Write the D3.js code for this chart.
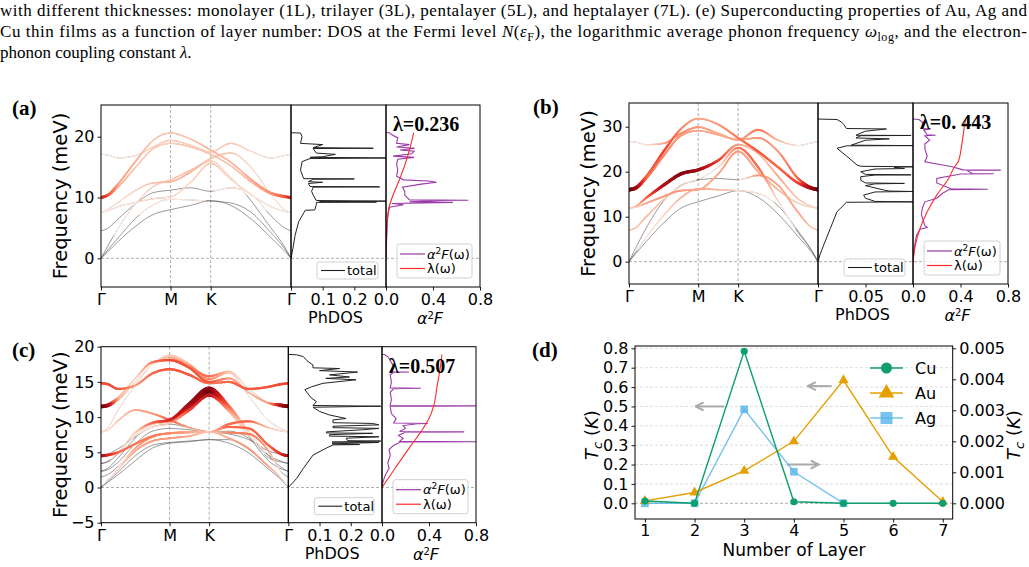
<!DOCTYPE html>
<html>
<head>
<meta charset="utf-8">
<script src="https://cdn.jsdelivr.net/npm/d3@7"></script>
<style>
  body { margin: 0; background: #fff; }
  svg { display: block; }
  text { font-family: "DejaVu Sans", sans-serif; fill: #000; }
</style>
</head>
<body>
<svg id="fig" width="1029" height="567"></svg>
<script>
// ---------- data ----------
// k-path sample positions (Γ-M-K-Γ, path length units) and high-symmetry labels
const kPath = [0, 0.08, 0.2165, 0.433, 0.6495, 0.866, 1.116, 1.366, 1.616, 1.866, 2.116, 2.286, 2.366];
const kLabels = ["Γ", "M", "K", "Γ"];
const kLabelPos = [0, 0.866, 1.366, 2.366];

// (a) phonon bands (meV) and coupling weight along the path
const bandsA = [
  [0, 1.0, 2.8, 5.3, 7.2, 8.0, 8.7, 9.5, 8.7, 6.5, 3.4, 1.2, 0],
  [0, 1.3, 3.4, 6.6, 8.8, 9.7, 9.6, 9.4, 9.1, 7.6, 4.2, 1.6, 0],
  [0, 1.9, 5.0, 9.0, 11.8, 12.9, 14.5, 16.0, 13.3, 9.5, 5.0, 1.9, 0],
  [4.5, 4.9, 6.5, 9.0, 10.8, 11.2, 11.6, 11.0, 11.6, 10.6, 7.0, 5.0, 4.5],
  [7.5, 7.8, 8.5, 9.2, 9.8, 10.1, 12.5, 15.6, 13.0, 10.5, 8.5, 7.7, 7.5],
  [7.5, 8.0, 9.2, 11.2, 12.4, 12.6, 14.2, 16.4, 17.3, 15.0, 10.5, 8.0, 7.5],
  [10.0, 10.3, 11.8, 15.0, 18.0, 18.9, 18.3, 17.1, 15.2, 12.6, 10.6, 10.1, 10.0],
  [10.0, 10.4, 12.3, 16.0, 19.4, 20.6, 19.6, 17.8, 15.8, 13.0, 10.8, 10.2, 10.0],
  [17.1, 17.0, 16.5, 16.9, 18.3, 19.4, 18.6, 17.5, 18.9, 17.6, 16.5, 16.9, 17.1]
];
const weightsA = [
  [0, 0, 0, 0, 0, 0, 0, 0, 0, 0, 0, 0, 0],
  [0, 0, 0, 0, 0.05, 0.08, 0.05, 0, 0, 0, 0, 0, 0],
  [0, 0, 0.02, 0.08, 0.15, 0.2, 0.2, 0.15, 0.05, 0, 0, 0, 0],
  [0, 0, 0, 0, 0, 0, 0, 0, 0.08, 0.05, 0, 0, 0],
  [0.03, 0.04, 0.05, 0.08, 0.1, 0.1, 0.15, 0.2, 0.15, 0.1, 0.05, 0.04, 0.03],
  [0.02, 0.05, 0.1, 0.15, 0.2, 0.25, 0.25, 0.22, 0.18, 0.12, 0.05, 0.03, 0.02],
  [0.72, 0.55, 0.28, 0.2, 0.18, 0.18, 0.2, 0.22, 0.2, 0.25, 0.32, 0.55, 0.72],
  [0.72, 0.55, 0.32, 0.28, 0.2, 0.2, 0.2, 0.25, 0.25, 0.3, 0.38, 0.55, 0.72],
  [0.02, 0.02, 0.03, 0.08, 0.15, 0.18, 0.15, 0.15, 0.2, 0.1, 0.03, 0.02, 0.02]
];
// (a) PhDOS and Eliashberg function: [frequency, value]
const dosA = [[0,0],[1.6,0.006],[3.8,0.013],[6.0,0.024],[7.9,0.045],[7.95,0.075],[8.8,0.08],[9.2,0.08],[9.25,0.27],[9.3,0.09],[9.4,0.33],[9.5,0.08],[10.4,0.07],[11.0,0.065],[11.7,0.07],[11.75,0.28],[11.8,0.06],[12.3,0.055],[12.5,0.1],[12.6,0.055],[13.0,0.07],[13.05,0.2],[13.1,0.04],[14.5,0.03],[15.9,0.035],[16.4,0.06],[16.5,0.33],[16.6,0.06],[16.7,0.1],[17.1,0.14],[17.3,0.08],[18.05,0.07],[18.1,0.26],[18.2,0.07],[18.7,0.1],[18.9,0.03],[20.0,0.035],[20.6,0.03],[20.65,0]];
const a2fA = [[0,0],[3.0,0.005],[6.0,0.01],[7.5,0.02],[8.4,0.03],[8.8,0.15],[9.0,0.05],[9.2,0.57],[9.3,0.2],[9.5,0.48],[9.55,0.7],[9.6,0.2],[10.4,0.16],[11.0,0.16],[11.7,0.14],[12.2,0.3],[12.5,0.43],[12.7,0.36],[12.9,0.15],[13.5,0.09],[14.5,0.1],[15.5,0.09],[16.3,0.1],[16.6,0.24],[16.8,0.06],[17.2,0.22],[17.6,0.24],[17.8,0.12],[18.1,0.245],[18.3,0.09],[18.7,0.2],[18.9,0.09],[19.8,0.1],[20.3,0.05],[20.65,0.03],[20.65,0]];
const lamA = [[0,0],[3.8,0.005],[7.9,0.02],[9.3,0.04],[10.4,0.06],[13.2,0.12],[15.9,0.17],[18.6,0.21],[20.65,0.236]];

// (b)
const bandsB = [
  [0, 1.7, 4.5, 8.6, 11.9, 13.3, 14.6, 15.8, 14.3, 10.6, 5.6, 2.1, 0],
  [0, 2.0, 5.4, 10.3, 14.2, 16.2, 16.0, 15.8, 15.2, 12.4, 6.8, 2.5, 0],
  [0, 2.9, 7.5, 13.5, 17.0, 18.2, 21.0, 25.3, 21.0, 13.5, 6.5, 2.5, 0],
  [7.0, 7.5, 10.0, 13.8, 16.8, 18.2, 18.5, 18.2, 19.2, 17.0, 11.0, 7.6, 7.0],
  [11.9, 12.1, 13.0, 14.5, 15.8, 16.0, 19.5, 24.5, 20.0, 16.0, 13.0, 12.1, 11.9],
  [11.9, 12.3, 14.2, 17.0, 19.5, 20.4, 22.5, 26.0, 24.0, 19.0, 14.0, 12.3, 11.9],
  [16.0, 16.3, 18.5, 23.5, 28.0, 29.1, 28.2, 27.1, 27.5, 24.5, 18.5, 16.4, 16.0],
  [16.0, 16.4, 19.0, 24.5, 29.5, 31.8, 30.5, 27.5, 24.5, 21.0, 17.5, 16.3, 16.0],
  [26.7, 26.6, 26.0, 26.3, 28.5, 29.9, 28.5, 27.1, 29.3, 27.0, 25.8, 26.4, 26.7]
];
const weightsB = [
  [0, 0, 0, 0, 0, 0, 0, 0, 0, 0, 0, 0, 0],
  [0, 0, 0.05, 0.15, 0.25, 0.3, 0.25, 0.1, 0.05, 0, 0, 0, 0],
  [0, 0, 0, 0, 0, 0, 0.1, 0.45, 0.5, 0.1, 0, 0, 0],
  [0.2, 0.2, 0.25, 0.2, 0.1, 0, 0, 0, 0.35, 0.3, 0.3, 0.2, 0.2],
  [0.1, 0.15, 0.3, 0.35, 0.35, 0.3, 0.3, 0.35, 0.3, 0.25, 0.15, 0.1, 0.1],
  [0.15, 0.2, 0.5, 0.85, 0.95, 0.9, 0.6, 0.3, 0.2, 0.3, 0.2, 0.15, 0.15],
  [1.0, 0.9, 0.45, 0.4, 0.35, 0.3, 0.3, 0.3, 0.35, 0.35, 0.5, 0.9, 1.0],
  [1.0, 0.9, 0.5, 0.6, 0.4, 0.3, 0.35, 0.45, 0.55, 0.5, 0.6, 0.9, 1.0],
  [0.03, 0.03, 0.1, 0.3, 0.4, 0.35, 0.3, 0.3, 0.45, 0.25, 0.05, 0.03, 0.03]
];
const dosB = [[0,0],[1.5,0.002],[3.7,0.006],[7.4,0.013],[11.1,0.02],[13.2,0.03],[13.3,0.1],[13.4,0.06],[14.1,0.05],[14.8,0.048],[15.5,0.06],[15.6,0.1],[15.7,0.075],[15.9,0.07],[16.9,0.05],[17.3,0.06],[17.4,0.091],[17.5,0.05],[18.1,0.045],[18.9,0.045],[19.25,0.06],[19.3,0.098],[19.4,0.05],[20.0,0.045],[20.6,0.06],[20.7,0.091],[21.0,0.08],[21.1,0.1],[21.2,0.045],[21.5,0.041],[23.5,0.03],[25.2,0.02],[25.75,0.03],[25.8,0.1],[25.9,0.035],[27.0,0.05],[27.3,0.075],[27.5,0.04],[28.0,0.045],[28.05,0.098],[28.1,0.04],[28.6,0.045],[29.0,0.05],[29.5,0.072],[29.6,0.03],[30.5,0.027],[31.0,0.025],[31.6,0.02],[31.7,0]];
const a2fB = [[0,0],[3.0,0.01],[5.9,0.03],[7.2,0.06],[7.6,0.12],[8.0,0.1],[10.5,0.07],[12.0,0.08],[13.3,0.1],[14.1,0.2],[15.2,0.25],[16.0,0.3],[16.1,0.63],[16.2,0.32],[17.5,0.2],[18.5,0.2],[19.5,0.4],[19.55,0.68],[19.6,0.5],[20.3,0.45],[20.35,0.74],[20.4,0.42],[21.1,0.33],[21.5,0.25],[22.2,0.1],[23.5,0.12],[25.0,0.1],[26.2,0.1],[27.0,0.14],[28.0,0.1],[28.1,0.19],[28.2,0.12],[29.3,0.09],[29.5,0.15],[29.6,0.08],[31.0,0.08],[31.6,0.05],[31.7,0]];
const lamB = [[0,0],[3.7,0.02],[7.4,0.06],[11.1,0.12],[14.8,0.2],[18.5,0.3],[21.1,0.35],[22.2,0.38],[25.9,0.41],[29.6,0.43],[31.7,0.443]];

// (c)
const bandsC = [
  [0, 0.7, 1.8, 3.8, 5.6, 6.3, 6.5, 6.8, 6.3, 4.9, 2.6, 1.0, 0],
  [0, 0.8, 2.2, 4.5, 6.0, 6.4, 6.6, 6.8, 6.8, 5.6, 3.0, 1.1, 0],
  [0, 1.0, 2.6, 5.2, 6.6, 7.0, 7.3, 7.9, 7.0, 5.5, 3.0, 1.2, 0],
  [1.5, 1.8, 3.0, 5.6, 7.2, 7.7, 7.8, 7.9, 7.8, 7.6, 5.2, 2.1, 1.5],
  [2.3, 2.5, 3.6, 6.2, 8.0, 8.4, 8.2, 7.9, 8.0, 7.0, 4.5, 2.8, 2.3],
  [2.3, 2.7, 4.2, 7.0, 8.6, 9.1, 11.0, 13.1, 10.8, 7.3, 3.8, 2.6, 2.3],
  [3.4, 3.6, 4.8, 7.4, 9.0, 9.4, 11.5, 13.6, 11.2, 7.6, 4.2, 3.6, 3.4],
  [3.4, 3.7, 5.0, 7.8, 9.2, 9.6, 11.9, 14.1, 11.6, 8.0, 4.6, 3.7, 3.4],
  [4.5, 4.6, 5.0, 6.2, 7.3, 7.7, 7.9, 7.9, 8.6, 8.4, 6.0, 4.7, 4.5],
  [4.5, 4.7, 5.5, 7.2, 8.6, 9.0, 8.5, 7.9, 7.6, 6.8, 5.2, 4.7, 4.5],
  [7.9, 8.1, 9.5, 11.0, 10.5, 9.6, 8.5, 7.9, 9.0, 9.4, 8.5, 8.0, 7.9],
  [7.9, 8.4, 11.0, 14.5, 17.5, 18.8, 17.5, 15.4, 16.3, 13.0, 9.5, 8.3, 7.9],
  [11.5, 11.6, 12.5, 15.0, 17.5, 18.5, 17.2, 15.8, 16.5, 14.0, 12.0, 11.6, 11.5],
  [11.5, 11.7, 12.8, 15.5, 17.8, 18.1, 17.0, 15.0, 15.5, 13.5, 12.0, 11.7, 11.5],
  [14.8, 14.7, 14.0, 14.5, 16.2, 16.8, 16.0, 14.8, 15.0, 14.0, 14.3, 14.7, 14.8]
];
const weightsC = [
  [0, 0, 0, 0, 0, 0, 0, 0, 0, 0, 0, 0, 0],
  [0, 0, 0, 0, 0, 0, 0, 0, 0, 0, 0, 0, 0],
  [0, 0.05, 0.15, 0.3, 0.35, 0.35, 0.3, 0.2, 0.3, 0.35, 0.3, 0.1, 0],
  [0, 0, 0, 0.3, 0.4, 0.4, 0.3, 0.1, 0.4, 0.45, 0.3, 0, 0],
  [0, 0, 0, 0, 0, 0, 0, 0, 0, 0, 0, 0, 0],
  [0, 0, 0, 0, 0.1, 0.2, 0.6, 0.8, 0.3, 0, 0, 0, 0],
  [0, 0, 0, 0.05, 0.2, 0.3, 0.8, 1.0, 0.4, 0.05, 0, 0, 0],
  [0, 0, 0.05, 0.2, 0.5, 0.7, 0.9, 0.95, 0.5, 0.1, 0, 0, 0],
  [0.85, 0.7, 0.5, 0.45, 0.45, 0.4, 0.3, 0.2, 0.5, 0.5, 0.5, 0.7, 0.85],
  [0, 0, 0, 0, 0, 0, 0, 0, 0, 0, 0, 0, 0],
  [0.1, 0.1, 0.2, 0.3, 0.35, 0.5, 0.3, 0.2, 0.5, 0.5, 0.2, 0.1, 0.1],
  [0.08, 0.05, 0.03, 0.02, 0.05, 0.15, 0.3, 0.4, 0.2, 0.05, 0.02, 0.05, 0.08],
  [1.0, 0.85, 0.3, 0.08, 0.1, 0.3, 0.4, 0.5, 0.2, 0.08, 0.2, 0.85, 1.0],
  [1.0, 0.85, 0.25, 0.15, 0.45, 0.6, 0.55, 0.55, 0.35, 0.25, 0.35, 0.85, 1.0],
  [0.6, 0.6, 0.55, 0.35, 0.5, 0.55, 0.55, 0.45, 0.5, 0.55, 0.55, 0.6, 0.6]
];
const dosC = [[0,0],[1.3,0.027],[2.7,0.048],[4.6,0.079],[5.6,0.122],[6.05,0.143],[6.1,0.228],[6.2,0.14],[6.4,0.29],[6.45,0.14],[6.6,0.296],[6.65,0.19],[7.0,0.185],[7.2,0.29],[7.3,0.132],[7.5,0.132],[7.7,0.27],[7.75,0.122],[7.9,0.122],[8.2,0.238],[8.4,0.29],[8.5,0.143],[8.7,0.143],[8.9,0.29],[9.1,0.27],[9.2,0.143],[9.6,0.143],[9.8,0.185],[10.3,0.132],[10.8,0.1],[11.4,0.079],[11.55,0.296],[11.65,0.079],[12.2,0.09],[12.7,0.074],[13.9,0.053],[14.3,0.074],[14.8,0.111],[15.3,0.217],[15.5,0.12],[15.7,0.196],[16.0,0.132],[16.4,0.222],[16.6,0.1],[16.9,0.164],[17.0,0.079],[17.4,0.079],[18.0,0.06],[18.6,0.048],[18.85,0.026],[18.9,0]];
const a2fC = [[0,0],[0.9,0.01],[1.8,0.03],[2.7,0.06],[3.5,0.05],[4.6,0.07],[5.4,0.06],[6.0,0.1],[6.45,0.16],[6.5,0.8],[6.55,0.15],[7.0,0.18],[7.4,0.14],[7.85,0.2],[7.9,0.7],[7.95,0.15],[8.4,0.2],[8.8,0.18],[9.05,0.3],[9.1,0.39],[9.15,0.1],[9.8,0.12],[10.5,0.08],[11.5,0.07],[11.6,0.8],[11.65,0.07],[12.5,0.08],[13.5,0.07],[14.05,0.1],[14.1,0.33],[14.15,0.07],[15.0,0.08],[16.0,0.07],[16.35,0.1],[16.4,0.23],[16.45,0.07],[17.2,0.1],[18.0,0.07],[18.6,0.05],[18.9,0.02],[18.9,0]];
const lamC = [[0,0],[2.7,0.11],[5.1,0.21],[6.5,0.27],[7.9,0.33],[9.8,0.40],[11.6,0.44],[14.5,0.47],[16.9,0.495],[18.9,0.51]];

// (d) Tc versus number of layers
const layers = [1, 2, 3, 4, 5, 6, 7];
const tcCu = [0.012, 0.0, 0.785, 0.008, 0.0, 0.0, 0.0];
const tcAg = [0.0, 0.0, 0.485, 0.163, 0.0];
const tcAu = [0.00008, 0.00035, 0.00105, 0.0020, 0.00397, 0.0015, 0.00005];
const tcLeftTicks = [0, 0.1, 0.2, 0.3, 0.4, 0.5, 0.6, 0.7, 0.8];
const tcRightTicks = [0, 0.001, 0.002, 0.003, 0.004, 0.005];

// ---------- drawing ----------
const svg = d3.select("#fig");
const serif = '"Liberation Serif", "Times New Roman", serif';
const defs = svg.append("defs");

// caption text above the figure
function richLine(y, parts, justify) {
  const t = svg.append("text").attr("x", 0).attr("y", y)
    .style("font-family", serif).style("font-size", "17px");
  if (justify) t.attr("textLength", 1027).attr("lengthAdjust", "spacing");
  parts.forEach(p => {
    const s = t.append("tspan").text(p.t);
    if (p.i) s.style("font-style", "italic");
    if (p.sub) s.attr("dy", 4).style("font-size", "12px");
    if (p.back) s.attr("dy", -4);
  });
}
richLine(16, [{ t: "with different thicknesses: monolayer (1L), trilayer (3L), pentalayer (5L), and heptalayer (7L). (e) Superconducting properties of Au, Ag and" }], true);
richLine(37, [
  { t: "Cu thin films as a function of layer number: DOS at the Fermi level " },
  { t: "N", i: true }, { t: "(" }, { t: "ε", i: true }, { t: "F", sub: true },
  { t: "), the logarithmic average phonon frequency ", back: true },
  { t: "ω", i: true }, { t: "log", sub: true },
  { t: ", and the electron-", back: true }
], true);
richLine(58, [{ t: "phonon coupling constant " }, { t: "λ", i: true }, { t: "." }], false);

function panelLabel(x, y, s) {
  svg.append("text").attr("x", x).attr("y", y).text(s)
    .style("font-family", serif).style("font-weight", "bold").style("font-size", "21px");
}

function styleAxis(g) {
  g.select(".domain").remove();
  g.selectAll(".tick line").attr("stroke", "#000").attr("stroke-width", 0.9);
  g.selectAll(".tick text").style("font-size", "16px").style("font-family", '"DejaVu Sans", sans-serif').attr("fill", "#000");
}

function bandPanel(cfg, id) {
  const g = svg.append("g");
  const kx = d3.scaleLinear().domain([kPath[0], kPath[kPath.length - 1]]).range([cfg.bx0, cfg.bx1]);
  const fy = d3.scaleLinear().domain(cfg.fDomain).range([cfg.y1, cfg.y0]);
  const dx = d3.scaleLinear().domain(cfg.dosDomain).range([cfg.bx1, cfg.dx1]);
  const ax = d3.scaleLinear().domain([0, 0.8]).range([cfg.dx1, cfg.ax1]);

  const clips = [["b", cfg.bx0, cfg.bx1], ["d", cfg.bx1, cfg.dx1], ["a", cfg.dx1, cfg.ax1]];
  clips.forEach(([n, x0, x1]) => {
    defs.append("clipPath").attr("id", `clip-${id}-${n}`).append("rect")
      .attr("x", x0).attr("y", cfg.y0).attr("width", x1 - x0).attr("height", cfg.y1 - cfg.y0);
  });

  // guide lines
  kLabelPos.slice(1, 3).forEach(k => {
    g.append("line").attr("x1", kx(k)).attr("x2", kx(k)).attr("y1", cfg.y0).attr("y2", cfg.y1)
      .attr("stroke", "#999").attr("stroke-width", 0.8).attr("stroke-dasharray", "3,2");
  });
  g.append("line").attr("x1", cfg.bx0).attr("x2", cfg.ax1).attr("y1", fy(0)).attr("y2", fy(0))
    .attr("stroke", "#999").attr("stroke-width", 0.8).attr("stroke-dasharray", "3,2");

  // bands: thin gray line plus coloured coupling overlay
  const bg = g.append("g").attr("clip-path", `url(#clip-${id}-b)`);
  const line = d3.line().x((d, i) => kx(kPath[i])).y(d => fy(d)).curve(d3.curveMonotoneX);
  const segs = [];
  cfg.bands.forEach((b, bi) => {
    const p = bg.append("path").attr("d", line(b)).attr("fill", "none")
      .attr("stroke", "#555").attr("stroke-width", 0.8).attr("stroke-opacity", 0.75);
    const node = p.node(), L = node.getTotalLength();
    const wAt = d3.scaleLinear().domain(kPath.map(kx)).range(cfg.weights[bi]).clamp(true);
    const n = Math.ceil(L / 1.5);
    let prev = node.getPointAtLength(0);
    for (let s = 1; s <= n; s++) {
      const pt = node.getPointAtLength(L * s / n);
      const w = wAt((prev.x + pt.x) / 2);
      if (w > 0.012) segs.push({ x1: prev.x, y1: prev.y, x2: pt.x, y2: pt.y, w });
      prev = pt;
    }
  });
  segs.sort((a, b) => a.w - b.w);
  bg.selectAll("line.seg").data(segs).join("line").attr("class", "seg")
    .attr("x1", d => d.x1).attr("y1", d => d.y1).attr("x2", d => d.x2).attr("y2", d => d.y2)
    .attr("stroke", d => d3.interpolateReds(0.02 + 0.96 * d.w))
    .attr("stroke-width", d => 0.9 + 2.6 * d.w).attr("stroke-linecap", "round");

  // PhDOS
  g.append("path").datum(cfg.dos).attr("clip-path", `url(#clip-${id}-d)`)
    .attr("fill", "none").attr("stroke", "#222").attr("stroke-width", 1)
    .attr("d", d3.line().x(d => dx(d[1])).y(d => fy(d[0])));

  // Eliashberg function and cumulative lambda
  const ag = g.append("g").attr("clip-path", `url(#clip-${id}-a)`);
  ag.append("path").datum(cfg.a2f).attr("fill", "none").attr("stroke", "#9a3aa8").attr("stroke-width", 1.1)
    .attr("d", d3.line().x(d => ax(d[1])).y(d => fy(d[0])));
  ag.append("path").datum(cfg.lam).attr("fill", "none").attr("stroke", "#ff2a2a").attr("stroke-width", 1.1)
    .attr("d", d3.line().x(d => ax(d[1])).y(d => fy(d[0])).curve(d3.curveMonotoneY));

  // axes
  const yAx = g.append("g").attr("transform", `translate(${cfg.bx0},0)`)
    .call(d3.axisLeft(fy).tickValues(cfg.fTicks).tickSize(3.5).tickPadding(3).tickFormat(d => d < 0 ? "−" + (-d) : d));
  styleAxis(yAx);
  const kAx = g.append("g").attr("transform", `translate(0,${cfg.y1})`)
    .call(d3.axisBottom(kx).tickValues(kLabelPos).tickSize(3.5).tickPadding(3).tickFormat((d, i) => kLabels[i]));
  styleAxis(kAx);
  const dAx = g.append("g").attr("transform", `translate(0,${cfg.y1})`)
    .call(d3.axisBottom(dx).tickValues(cfg.dosTicks).tickSize(3.5).tickPadding(3).tickFormat(d3.format(cfg.dosFmt)));
  styleAxis(dAx);
  const aAx = g.append("g").attr("transform", `translate(0,${cfg.y1})`)
    .call(d3.axisBottom(ax).tickValues([0, 0.4, 0.8]).tickSize(3.5).tickPadding(3).tickFormat(d3.format(".1f")));
  styleAxis(aAx);

  // frames
  [[cfg.bx0, cfg.bx1], [cfg.bx1, cfg.dx1], [cfg.dx1, cfg.ax1]].forEach(([x0, x1]) => {
    g.append("rect").attr("x", x0).attr("y", cfg.y0).attr("width", x1 - x0).attr("height", cfg.y1 - cfg.y0)
      .attr("fill", "none").attr("stroke", "#000").attr("stroke-width", 1);
  });

  // axis titles
  g.append("text").attr("transform", `translate(${cfg.bx0 - 34},${(cfg.y0 + cfg.y1) / 2}) rotate(-90)`)
    .attr("text-anchor", "middle").style("font-size", "19.5px").text("Frequency (meV)");
  g.append("text").attr("x", (cfg.bx1 + cfg.dx1) / 2 - 3).attr("y", cfg.y1 + 36)
    .attr("text-anchor", "middle").style("font-size", "16px").text("PhDOS");
  const at = g.append("text").attr("x", (cfg.dx1 + cfg.ax1) / 2 - 3).attr("y", cfg.y1 + 37)
    .attr("text-anchor", "middle").style("font-size", "16px");
  at.append("tspan").text("α").style("font-style", "italic");
  at.append("tspan").text("2").attr("dy", -5).style("font-size", "10px");
  at.append("tspan").text("F").attr("dy", 5).style("font-style", "italic");

  // lambda label
  g.append("text").attr("x", cfg.dx1 + 7).attr("y", cfg.y0 + 26).text(cfg.lamText)
    .style("font-family", serif).style("font-weight", "bold").style("font-size", "20px");

  // legends
  const lg = g.append("g");
  lg.append("rect").attr("x", cfg.bx1 + 26).attr("y", cfg.y1 - 25).attr("width", cfg.dx1 - cfg.bx1 - 34).attr("height", 17)
    .attr("rx", 2.5).attr("fill", "#fff").attr("fill-opacity", 0.8).attr("stroke", "#d0d0d0");
  lg.append("line").attr("x1", cfg.bx1 + 30).attr("x2", cfg.bx1 + 54).attr("y1", cfg.y1 - 16.5).attr("y2", cfg.y1 - 16.5)
    .attr("stroke", "#222").attr("stroke-width", 1.1);
  lg.append("text").attr("x", cfg.bx1 + 56).attr("y", cfg.y1 - 12).style("font-size", "13px").text("total");

  lg.append("rect").attr("x", cfg.dx1 + 11).attr("y", cfg.y1 - 43).attr("width", cfg.ax1 - cfg.dx1 - 19).attr("height", 34)
    .attr("rx", 2.5).attr("fill", "#fff").attr("fill-opacity", 0.8).attr("stroke", "#d0d0d0");
  lg.append("line").attr("x1", cfg.dx1 + 14).attr("x2", cfg.dx1 + 39).attr("y1", cfg.y1 - 33).attr("y2", cfg.y1 - 33)
    .attr("stroke", "#9a3aa8").attr("stroke-width", 1.2);
  const l1 = lg.append("text").attr("x", cfg.dx1 + 41).attr("y", cfg.y1 - 28.5).style("font-size", "13px");
  l1.append("tspan").text("α").style("font-style", "italic");
  l1.append("tspan").text("2").attr("dy", -5).style("font-size", "9px");
  l1.append("tspan").text("F").attr("dy", 5).style("font-style", "italic");
  l1.append("tspan").text("(ω)");
  lg.append("line").attr("x1", cfg.dx1 + 14).attr("x2", cfg.dx1 + 39).attr("y1", cfg.y1 - 18.5).attr("y2", cfg.y1 - 18.5)
    .attr("stroke", "#ff2a2a").attr("stroke-width", 1.2);
  lg.append("text").attr("x", cfg.dx1 + 41).attr("y", cfg.y1 - 14).style("font-size", "13px").text("λ(ω)");
}

bandPanel({
  bx0: 101, bx1: 291, dx1: 386, ax1: 480, y0: 105, y1: 287,
  fDomain: [-4.72, 25.21], fTicks: [0, 10, 20],
  dosDomain: [0, 0.3], dosTicks: [0.1, 0.2], dosFmt: ".1f",
  bands: bandsA, weights: weightsA, dos: dosA, a2f: a2fA, lam: lamA, lamText: "λ=0.236"
}, "a");
bandPanel({
  bx0: 629, bx1: 818, dx1: 913, ax1: 1008, y0: 103, y1: 284,
  fDomain: [-4.96, 35.27], fTicks: [0, 10, 20, 30],
  dosDomain: [0, 0.1], dosTicks: [0.05], dosFmt: ".2f",
  bands: bandsB, weights: weightsB, dos: dosB, a2f: a2fB, lam: lamB, lamText: "λ=0. 443"
}, "b");
bandPanel({
  bx0: 101, bx1: 288.3, dx1: 382, ax1: 476, y0: 346.7, y1: 522.7,
  fDomain: [-5, 20], fTicks: [-5, 0, 5, 10, 15, 20],
  dosDomain: [0, 0.3], dosTicks: [0.1, 0.2], dosFmt: ".1f",
  bands: bandsC, weights: weightsC, dos: dosC, a2f: a2fC, lam: lamC, lamText: "λ=0.507"
}, "c");

panelLabel(12, 115, "(a)");
panelLabel(533, 114, "(b)");
panelLabel(12, 357, "(c)");
panelLabel(532, 357, "(d)");

// ---------- (d) ----------
const dg = svg.append("g");
const xL = d3.scaleLinear().domain([0.8, 7.2]).range([635, 952.7]);
const yL = d3.scaleLinear().domain([-0.081, 0.812]).range([519, 346]);
const yR = d3.scaleLinear().domain([-0.000506, 0.005075]).range([519, 346]);

tcLeftTicks.forEach(t => {
  dg.append("line").attr("x1", 635).attr("x2", 952.7).attr("y1", yL(t)).attr("y2", yL(t))
    .attr("stroke", t === 0 ? "#999" : "#d4d4d4").attr("stroke-width", 0.8).attr("stroke-dasharray", "3,2");
});

const lAx = dg.append("g").attr("transform", "translate(635,0)")
  .call(d3.axisLeft(yL).tickValues(tcLeftTicks).tickSize(3.5).tickPadding(3).tickFormat(d3.format(".1f")));
styleAxis(lAx);
const rAx = dg.append("g").attr("transform", "translate(952.7,0)")
  .call(d3.axisRight(yR).tickValues(tcRightTicks).tickSize(3.5).tickPadding(3).tickFormat(d3.format(".3f")));
styleAxis(rAx);
const bAx = dg.append("g").attr("transform", "translate(0,519)")
  .call(d3.axisBottom(xL).tickValues(layers).tickSize(3.5).tickPadding(2).tickFormat(d3.format("d")));
styleAxis(bAx);

// arrows pointing to the axis each series uses
defs.append("marker").attr("id", "chev").attr("viewBox", "0 0 10 10").attr("refX", 9).attr("refY", 5)
  .attr("markerWidth", 10).attr("markerHeight", 10).attr("markerUnits", "userSpaceOnUse").attr("orient", "auto")
  .append("path").attr("d", "M1,1 L9,5 L1,9").attr("fill", "none").attr("stroke", "#aaa").attr("stroke-width", 2);
const arrows = [
  { from: 2.6, to: 2.02, v: 0.5 },
  { from: 4.76, to: 4.28, v: 0.605 },
  { from: 3.86, to: 4.5, v: 0.2 }
];
arrows.forEach(a => {
  dg.append("line").attr("x1", xL(a.from)).attr("x2", xL(a.to)).attr("y1", yL(a.v)).attr("y2", yL(a.v))
    .attr("stroke", "#aaa").attr("stroke-width", 2).attr("marker-end", "url(#chev)");
});

const series = [
  { name: "Cu", vals: tcCu, y: yL, color: "#0e9e70", sym: d3.symbolCircle, size: 40, op: 1 },
  { name: "Au", vals: tcAu, y: yR, color: "#e69f00", sym: d3.symbolTriangle, size: 45, op: 1 },
  { name: "Ag", vals: tcAg, y: yL, color: "#56b4e9", sym: d3.symbolSquare, size: 60, op: 0.8 }
];
series.slice().reverse().forEach(s => {
  const pts = s.vals.map((v, i) => [layers[i], v]);
  dg.append("path").datum(pts).attr("fill", "none").attr("stroke", s.color).attr("stroke-width", 1.4)
    .attr("stroke-opacity", s.op)
    .attr("d", d3.line().x(d => xL(d[0])).y(d => s.y(d[1])));
  dg.selectAll(null).data(pts).join("path")
    .attr("transform", d => `translate(${xL(d[0])},${s.y(d[1])})`)
    .attr("d", d3.symbol(s.sym, s.size)).attr("fill", s.color).attr("fill-opacity", s.op);
});

dg.append("rect").attr("x", 635).attr("y", 346).attr("width", 317.7).attr("height", 173)
  .attr("fill", "none").attr("stroke", "#000").attr("stroke-width", 1);

// legend
series.forEach((s, i) => {
  const y = 368 + i * 25;
  dg.append("line").attr("x1", 870).attr("x2", 903).attr("y1", y).attr("y2", y)
    .attr("stroke", s.color).attr("stroke-width", 1.4).attr("stroke-opacity", s.op);
  dg.append("path").attr("transform", `translate(886.5,${y})`).attr("d", d3.symbol(s.sym, s.size * 2.4))
    .attr("fill", s.color).attr("fill-opacity", s.op);
  dg.append("text").attr("x", 915).attr("y", y + 6).style("font-size", "16px").text(s.name);
});

// axis titles
function tcLabel(x) {
  const t = dg.append("text").attr("transform", `translate(${x},435) rotate(-90)`)
    .attr("text-anchor", "middle").style("font-size", "18px");
  t.append("tspan").text("T").style("font-style", "italic");
  t.append("tspan").text("c").attr("dy", 4).style("font-size", "13px").style("font-style", "italic");
  t.append("tspan").text(" (").attr("dy", -4);
  t.append("tspan").text("K").style("font-style", "italic");
  t.append("tspan").text(")");
}
tcLabel(598);
tcLabel(1020);
dg.append("text").attr("x", 794).attr("y", 556).attr("text-anchor", "middle")
  .style("font-size", "17px").text("Number of Layer");
</script>
</body>
</html>
